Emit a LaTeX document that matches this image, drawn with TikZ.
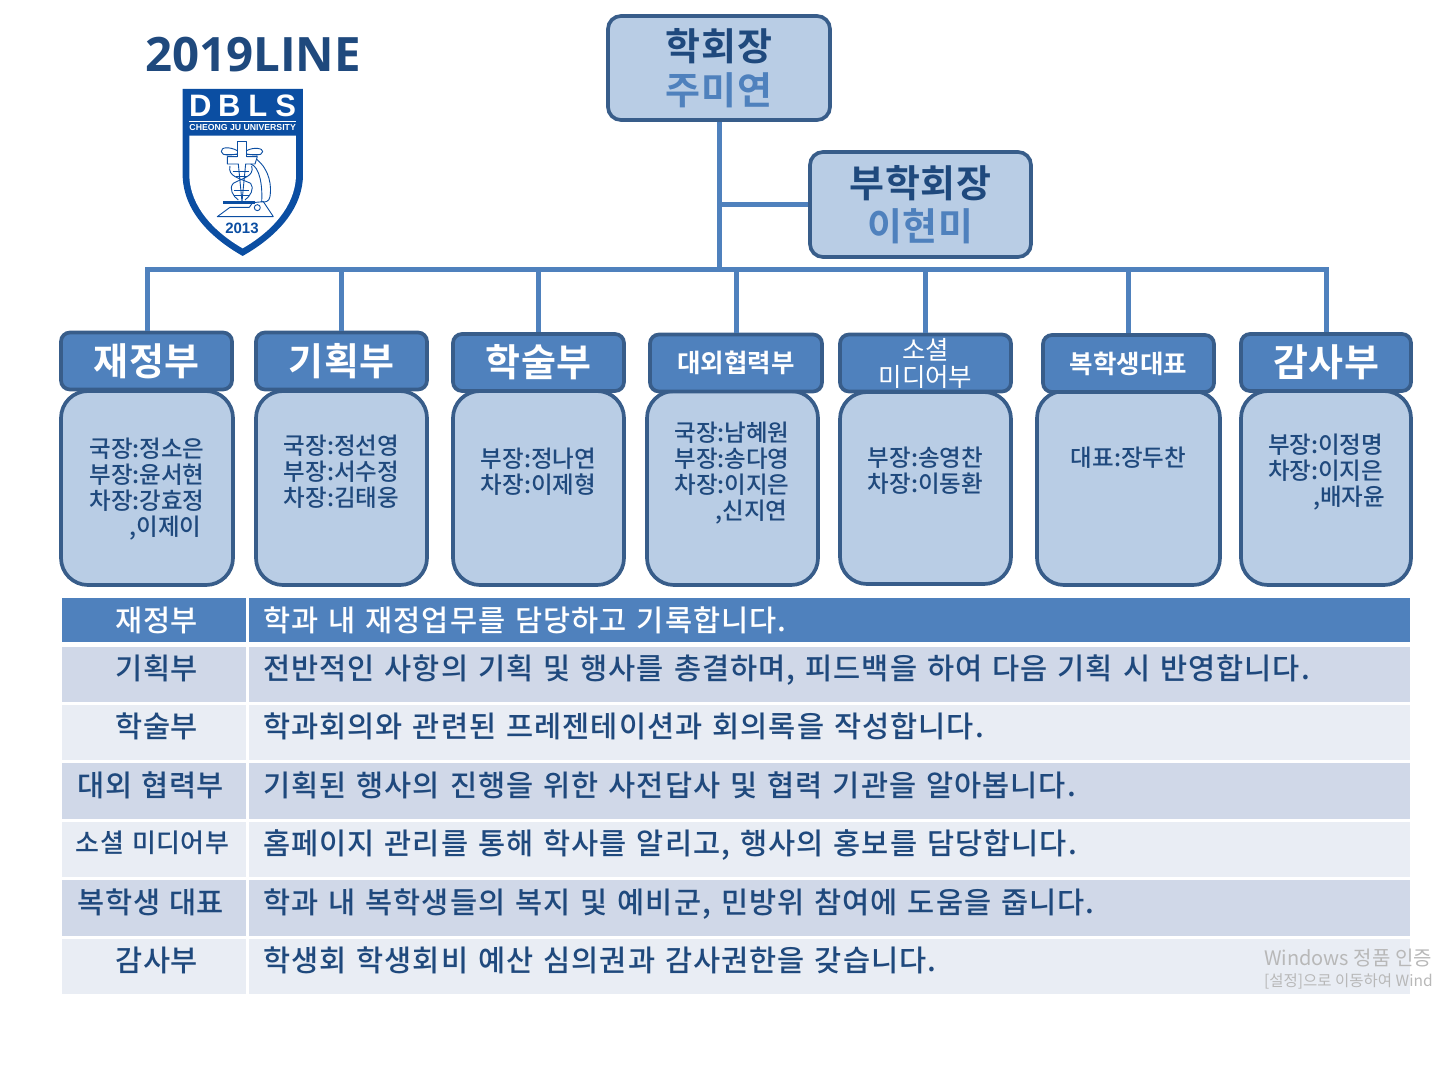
\documentclass[tikz,border=0pt]{standalone}
\usepackage{fontspec}
\setmainfont{Noto Sans CJK KR Medium}
\newfontfamily\rowfont{Noto Sans CJK KR Medium}[LetterSpace=3.5,WordSpace=1.3]
\newfontfamily\labelfont{Noto Sans CJK KR Medium}[LetterSpace=1.5,WordSpace=1.3]
\newfontfamily\thinfont{Noto Sans CJK KR}
\newfontfamily\headfont{Noto Sans CJK KR Bold}[LetterSpace=1.5]
\newfontfamily\midfont{Noto Sans CJK KR Bold}
\newfontfamily\titlefont{Open Sans}
\newfontfamily\logofont{Liberation Sans}
\definecolor{txt}{HTML}{1F497D}
\definecolor{acc}{HTML}{4F81BD}
\definecolor{edge}{HTML}{385D8A}
\definecolor{pale}{HTML}{B9CDE5}
\definecolor{rowa}{HTML}{D0D8E8}
\definecolor{rowb}{HTML}{E9EDF4}
\definecolor{shield}{HTML}{0B4EA2}
\newcommand{\fs}[2]{\fontsize{#1}{#2}\selectfont}
\tikzset{
  topbox/.style={draw=edge,fill=pale,line width=3.7pt,rounded corners=13pt,align=center,inner sep=0pt,text=txt,font={\headfont\fs{38}{44}}},
  headbox/.style={draw=edge,fill=acc,line width=3.7pt,rounded corners=9pt,align=center,inner sep=0pt,text=white,minimum height=57pt},
  bodybox/.style={draw=edge,fill=pale,line width=3.7pt,rounded corners=27pt,inner sep=0pt},
  bodytext/.style={text=txt,font=\fs{23.5}{26.2},align=left,inner sep=0pt},
  link/.style={draw=acc,line width=5pt},
  rowlabel/.style={text=txt,anchor=base,inner sep=0pt,font={\labelfont\fs{29.5}{32}}},
  rowtext/.style={text=txt,anchor=base west,inner sep=0pt,font={\rowfont\fs{29.5}{32}}},
  logoline/.style={draw=shield,line width=0.9pt,line join=round}
}
\begin{document}
\begin{tikzpicture}[x=1pt,y=-1pt]
\useasboundingbox (0,0) rectangle (1435,1080);
\clip (0,0) rectangle (1435,1080);
% top boxes
\node[topbox,minimum width=222pt,minimum height=104pt] (pres) at (719,68) {학회장\\[-0.5pt]\textcolor{acc}{주미연}};
\node[topbox,minimum width=221pt,minimum height=105pt] (vice) at (920.5,204.5) {부학회장\\[-0.5pt]\textcolor{acc}{이현미}};
% body boxes
\node[bodybox,minimum width=172pt,minimum height=194pt] (b1) at (147,488) {};
\node[bodybox,minimum width=171pt,minimum height=194pt] (b2) at (341.5,488) {};
\node[bodybox,minimum width=171pt,minimum height=194pt] (b3) at (538.5,488) {};
\node[bodybox,minimum width=171pt,minimum height=194pt] (b4) at (732.5,488) {};
\node[bodybox,minimum width=171pt,minimum height=192pt] (b5) at (925.5,488) {};
\node[bodybox,minimum width=183pt,minimum height=194pt] (b6) at (1128.5,488) {};
\node[bodybox,minimum width=170pt,minimum height=194pt] (b7) at (1326,488) {};
% header boxes
\node[headbox,minimum width=171pt,font={\headfont\fs{38}{44}}] (h1) at (146.5,361) {재정부};
\node[headbox,minimum width=171pt,font={\headfont\fs{38}{44}}] (h2) at (341.5,361) {기획부};
\node[headbox,minimum width=171pt,font={\headfont\fs{38}{44}}] (h3) at (538.5,362.5) {학술부};
\node[headbox,minimum width=172pt,font={\midfont\fs{25.5}{30}}] (h4) at (736,363) {대외협력부};
\node[headbox,minimum width=171pt,font={\thinfont\fs{25.5}{27}}] (h5) at (925.5,363) {소셜\\미디어부};
\node[headbox,minimum width=171pt,font={\midfont\fs{25.5}{30}}] (h6) at (1128.5,363.5) {복학생대표};
\node[headbox,minimum width=170pt,font={\headfont\fs{38}{44}}] (h7) at (1326,362.5) {감사부};
% connectors
\coordinate (busL) at (147,269);
\coordinate (busR) at (1326.5,269);
\coordinate (busM) at (719,269);
\coordinate (viceJ) at (719,204.5);
\draw[link] (pres.south) -- (busM);
\draw[link] (viceJ) -- (vice.west);
\draw[link,line cap=square] (h1.north-|busL) -- (busL) -- (busR) -- (h7.north-|busR);
\foreach \n/\x in {h2/341,h3/538,h4/736.5,h5/925,h6/1128.5}{
  \coordinate (t\n) at (\x,269);
  \draw[link] (t\n) -- (\n.north-|t\n);
}
% body text
\node[bodytext] (t1) at (147,489) {국장:정소은\\부장:윤서현\\차장:강효정\\\hspace*{40pt},이제이};
\node[bodytext] (t2) at (341.5,472) {국장:정선영\\부장:서수정\\차장:김태웅};
\node[bodytext] (t3) at (538.5,472) {부장:정나연\\차장:이제형};
\node[bodytext] (t4) at (732,473) {국장:남혜원\\부장:송다영\\차장:이지은\\\hspace*{41pt},신지연};
\node[bodytext] (t5) at (925.5,471) {부장:송영찬\\차장:이동환};
\node[bodytext] (t6) at (1128.5,458) {대표:장두찬};
\node[bodytext] (t7) at (1326.5,472) {부장:이정명\\차장:이지은\\\hspace*{45pt},배자윤};
% table
\fill[acc] (62,598) rectangle (246,642);
\fill[acc] (249,598) rectangle (1410,642);
\fill[rowa] (62,647) rectangle (246,702);
\fill[rowa] (249,647) rectangle (1410,702);
\fill[rowb] (62,705) rectangle (246,760);
\fill[rowb] (249,705) rectangle (1410,760);
\fill[rowa] (62,763) rectangle (246,819);
\fill[rowa] (249,763) rectangle (1410,819);
\fill[rowb] (62,822) rectangle (246,877);
\fill[rowb] (249,822) rectangle (1410,877);
\fill[rowa] (62,880) rectangle (246,936);
\fill[rowa] (249,880) rectangle (1410,936);
\fill[rowb] (62,939) rectangle (246,994);
\fill[rowb] (249,939) rectangle (1410,994);
\node[rowlabel,text=white] (l1) at (157,631) {재정부};
\node[rowlabel] (l2) at (157,679) {기획부};
\node[rowlabel] (l3) at (157,737) {학술부};
\node[rowlabel] (l4) at (151,796) {대외 협력부};
\node[rowlabel,font={\labelfont\fs{26}{30}}] (l5) at (152.5,852) {소셜 미디어부};
\node[rowlabel] (l6) at (151,913) {복학생 대표};
\node[rowlabel] (l7) at (157,971) {감사부};
\node[rowtext,text=white] (r1) at (263,631) {학과 내 재정업무를 담당하고 기록합니다.};
\node[rowtext] (r2) at (263,679) {전반적인 사항의 기획 및 행사를 총결하며, 피드백을 하여 다음 기획 시 반영합니다.};
\node[rowtext] (r3) at (263,737) {학과회의와 관련된 프레젠테이션과 회의록을 작성합니다.};
\node[rowtext] (r4) at (263,796) {기획된 행사의 진행을 위한 사전답사 및 협력 기관을 알아봅니다.};
\node[rowtext] (r5) at (263,854) {홈페이지 관리를 통해 학사를 알리고, 행사의 홍보를 담당합니다.};
\node[rowtext] (r6) at (263,913) {학과 내 복학생들의 복지 및 예비군, 민방위 참여에 도움을 줍니다.};
\node[rowtext] (r7) at (263,971) {학생회 학생회비 예산 심의권과 감사권한을 갖습니다.};
% watermark
\node[anchor=base west,inner sep=0pt,text=black!28,font={\thinfont\fs{20}{22}}] (w1) at (1264,965) {Windows 정품 인증};
\node[anchor=base west,inner sep=0pt,text=black!28,font={\thinfont\fs{15.5}{18}}] (w2) at (1264,986) {[설정]으로 이동하여 Wind};
% title
\node[anchor=base west,inner sep=0pt,text=txt,font={\titlefont\bfseries\fs{47.4}{52}}] (title) at (145,71) {2019LINE};
% logo
\begin{scope}[shift={(130,20)},x=0.3333pt,y=-0.3333pt]
\fill[shield] (158,207) -- (519,207) -- (519,470) .. controls (515,570) and (440,650) .. (338,708) .. controls (236,650) and (162,570) .. (158,470) -- cycle;
\fill[white] (178,347) -- (498,347) -- (498,470) .. controls (494,560) and (425,635) .. (338,685) .. controls (251,635) and (182,560) .. (178,470) -- cycle;
\draw[white,line width=0.7pt] (178,305) -- (498,305);
\node[inner sep=0pt,text=white,font={\logofont\bfseries\fs{31}{33}}] (ld) at (338,258) {D\hspace{6.5pt}B\hspace{8pt}L\hspace{8pt}S};
\node[inner sep=0pt,text=white,font={\logofont\bfseries\fs{8.7}{11}}] (lu) at (338,323) {CHEONG JU UNIVERSITY};
\node[inner sep=0pt,text=shield,font={\logofont\bfseries\fs{15}{17}}] (ly) at (336,625) {2013};
\draw[logoline] (322,380) -- (322,365) -- (350,365) -- (350,380);
\draw[logoline] (322,410) -- (292,410) -- (292,432) -- (325,432) -- (336,545) -- (347,432) -- (375,432) -- (382,410) -- (350,410);
\draw[logoline] (322,392) .. controls (300,380) and (272,380) .. (274,395) .. controls (276,410) and (305,405) .. (322,402);
\draw[logoline] (350,392) .. controls (372,380) and (400,385) .. (398,395) .. controls (396,410) and (367,405) .. (350,402);
\draw[logoline] (282,402) -- (322,402); \draw[logoline] (350,402) -- (390,402);
\draw[logoline] (322,370) -- (322,410); \draw[logoline] (350,370) -- (350,410);
\draw[logoline] (300,438) .. controls (292,470) and (330,475) .. (362,490) .. controls (375,505) and (360,530) .. (345,540);
\draw[logoline] (365,438) .. controls (375,470) and (335,475) .. (310,490) .. controls (295,505) and (310,530) .. (325,540);
\draw[logoline] (308,455) -- (358,455); \draw[logoline] (318,470) -- (350,470); \draw[logoline] (312,510) -- (358,510); \draw[logoline] (312,525) -- (356,525);
\draw[logoline] (380,418) .. controls (420,450) and (425,500) .. (420,530) .. controls (418,545) and (405,548) .. (395,545) .. controls (398,500) and (390,440) .. (362,432);
\fill[shield] (280,544) rectangle (375,552);
\draw[logoline] (262,590) -- (300,562) -- (358,562) -- (368,548) -- (400,545) -- (430,590) -- cycle;
\draw[logoline] (382,563) circle (9);
\end{scope}
\end{tikzpicture}
\end{document}
